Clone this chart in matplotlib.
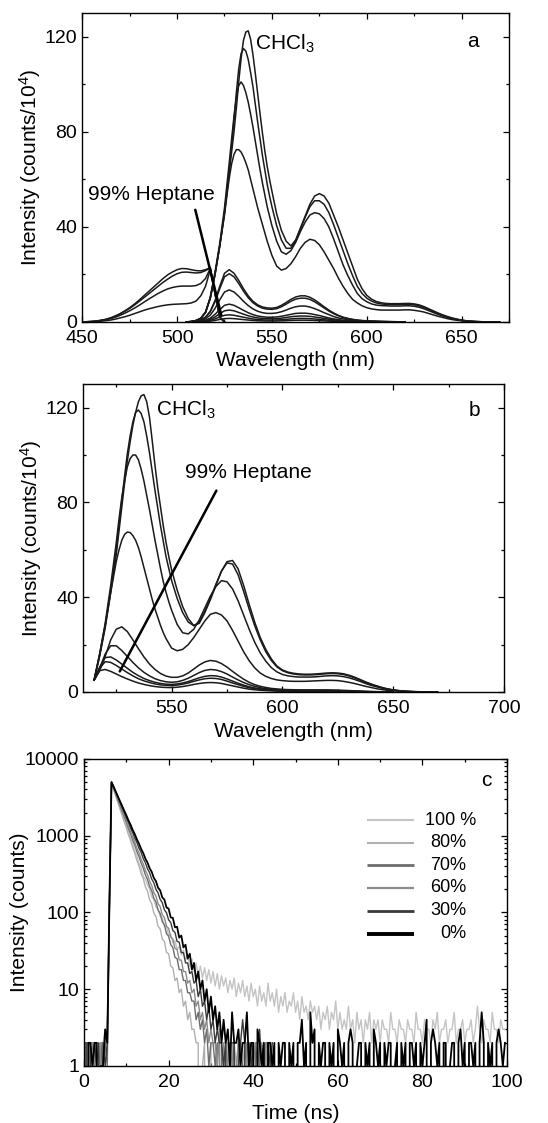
import numpy as np
import matplotlib
matplotlib.use('Agg')
import matplotlib.pyplot as plt
from matplotlib.ticker import MultipleLocator, FuncFormatter

plt.rcParams['font.family'] = ['Liberation Sans', 'DejaVu Sans']
plt.rcParams['mathtext.default'] = 'regular'

FS = 15       # labels and annotations
FS_TICK = 14  # tick labels
FS_LEG = 13   # legend of panel c
LINE = '#1a1a1a'

# ---------------- panel a: spectra, 450-675 nm ----------------
wl_a_left = np.arange(450, 525.1, 2.5)    # 31 points
# finer sampling across the main peak
wl_a_big = np.concatenate([np.arange(505, 525, 2.5),
                           np.arange(525, 550, 1.25),
                           np.arange(550, 670.1, 2.5)])   # 77 points
wl_a_small = np.arange(505, 620.1, 2.5)   # 47 points

a_hump1 = [0, 0.1, 0.2, 0.4, 0.7, 1.1, 1.7, 2.5, 3.5, 4.7,
           6, 7.5, 9.2, 11, 12.8, 14.6, 16.4, 18.2, 19.8, 21,
           22, 22.5, 22.4, 22, 21.6, 21.5, 22, 22.8, 12, 2,
           0]
a_hump2 = [0, 0.1, 0.2, 0.4, 0.7, 1.1, 1.7, 2.5, 3.4, 4.5,
           5.7, 7.1, 8.6, 10.2, 11.8, 13.4, 15, 16.6, 18, 19.3,
           20.3, 20.9, 21, 20.8, 20.6, 20.8, 21.6, 22.8, 12, 2,
           0]
a_hump3 = [0, 0.1, 0.2, 0.3, 0.6, 0.9, 1.4, 2, 2.8, 3.7,
           4.7, 5.8, 7, 8.3, 9.6, 10.8, 12, 13, 13.9, 14.5,
           14.9, 15.1, 15.1, 15.1, 15.3, 16.2, 18.3, 22.5, 12, 2,
           0]
a_hump4 = [0, 0.05, 0.1, 0.2, 0.35, 0.55, 0.8, 1.2, 1.7, 2.2,
           2.8, 3.5, 4.2, 4.9, 5.5, 6, 6.5, 6.9, 7.2, 7.4,
           7.5, 7.6, 7.7, 8, 8.8, 11, 15, 22, 12, 2,
           0]

a_big1 = [0, 0.2, 0.6, 1.5, 4, 10, 20, 32,
          46, 54, 63, 71.5, 80, 90, 101, 111, 118.5, 122,
          122.5, 119, 112.5, 104.5, 96, 87.5, 79.5, 72, 65.5, 60,
          55, 45.5,
          38.5, 34, 32, 34.5, 39.5, 44.5, 49.5, 53, 54, 53,
          50, 45, 40, 34.5, 29, 23.5, 18, 14, 11.2, 9.6,
          8.6, 8.1, 7.8, 7.7, 7.7, 7.7, 7.8, 7.8, 7.6, 7.2,
          6.5, 5.6, 4.7, 3.8, 3, 2.3, 1.7, 1.2, 0.8, 0.5,
          0.3, 0.2, 0.1, 0.05, 0.02, 0.01, 0]
a_big2 = [0, 0.2, 0.6, 1.5, 4, 10, 20, 32,
          46, 55, 64, 74, 85, 96.5, 106.5, 113, 115, 114,
          110.5, 105, 99, 91.5, 84, 77, 70, 64, 58, 53,
          48.5, 40.5,
          34.5, 31, 31, 34, 39, 44, 48.5, 51, 51, 49.5,
          46, 41, 35.5, 30, 24.5, 19.5, 15, 12, 10, 8.8,
          8, 7.6, 7.4, 7.3, 7.3, 7.3, 7.4, 7.4, 7.2, 6.8,
          6.1, 5.3, 4.4, 3.5, 2.7, 2.1, 1.5, 1.1, 0.7, 0.45,
          0.3, 0.15, 0.1, 0.05, 0.02, 0.01, 0]
a_big3 = [0, 0.2, 0.6, 1.6, 4.2, 10.5, 21, 33,
          48, 57.5, 67, 77, 86.5, 94.5, 99.5, 101, 99.5, 96.5,
          92.5, 87.5, 82, 76, 70, 64, 58.5, 53.5, 48.5, 44.5,
          40.5, 34,
          29.5, 28.5, 30, 33.5, 38, 42, 45, 46, 45.5, 43.5,
          40, 35, 29.5, 24, 19.5, 15.5, 12, 9.8, 8.5, 7.6,
          7.1, 6.9, 6.8, 6.7, 6.7, 6.7, 6.8, 6.8, 6.6, 6.2,
          5.6, 4.8, 4, 3.2, 2.5, 1.9, 1.4, 1, 0.65, 0.4,
          0.25, 0.15, 0.1, 0.05, 0.02, 0.01, 0]
a_big4 = [0, 0.2, 0.6, 1.5, 4, 10, 20, 32,
          45, 53, 60.5, 66.5, 70.5, 72.5, 72.5, 71.5, 69.5, 67,
          64, 60, 56, 52, 48, 44.5, 41, 37.5, 34, 31,
          28, 23.5,
          21.8, 22.5, 24.5, 27.5, 31, 33.5, 34.8, 34.3, 32.5, 29.5,
          26, 22.5, 18.5, 15, 12, 9.5, 8, 6.8, 6, 5.5,
          5.2, 5, 5, 5, 5, 5, 5.1, 5.1, 4.9, 4.6,
          4.2, 3.6, 3, 2.4, 1.9, 1.4, 1, 0.7, 0.5, 0.3,
          0.2, 0.12, 0.07, 0.04, 0.02, 0.01, 0]

a_small1 = [0, 0.1, 0.3, 0.8, 2, 4.5, 9, 15, 20.5, 22,
            20.5, 17.5, 14, 11, 8.7, 7.2, 6.3, 5.9, 5.8, 6.1,
            7, 8.2, 9.5, 10.5, 11, 11, 10.4, 9.3, 7.9, 6.4,
            5, 3.8, 2.8, 2, 1.5, 1.1, 0.8, 0.6, 0.5, 0.4,
            0.3, 0.25, 0.2, 0.15, 0.1, 0.05, 0]
a_small2 = [0, 0.1, 0.3, 0.8, 2, 4.3, 8.5, 14, 19, 20.3,
            19, 16.2, 13, 10.2, 8.1, 6.7, 5.8, 5.4, 5.3, 5.6,
            6.4, 7.5, 8.7, 9.6, 10, 10, 9.5, 8.5, 7.2, 5.9,
            4.6, 3.5, 2.6, 1.9, 1.4, 1, 0.75, 0.55, 0.45, 0.35,
            0.3, 0.2, 0.15, 0.1, 0.1, 0.05, 0]
a_small3 = [0, 0.1, 0.2, 0.5, 1.3, 2.9, 5.7, 9.3, 12.6, 13.5,
            12.6, 10.8, 8.7, 6.9, 5.5, 4.5, 3.9, 3.6, 3.6, 3.8,
            4.3, 5, 5.8, 6.4, 6.7, 6.7, 6.3, 5.6, 4.8, 3.9,
            3.1, 2.3, 1.7, 1.3, 0.95, 0.7, 0.5, 0.4, 0.3, 0.25,
            0.2, 0.15, 0.1, 0.1, 0.05, 0.05, 0]
a_small4 = [0, 0.05, 0.1, 0.3, 0.7, 1.6, 3.2, 5.2, 7, 7.5,
            7, 6, 4.9, 3.9, 3.1, 2.5, 2.2, 2, 2, 2.1,
            2.4, 2.8, 3.2, 3.6, 3.7, 3.7, 3.5, 3.1, 2.7, 2.2,
            1.7, 1.3, 1, 0.7, 0.55, 0.4, 0.3, 0.2, 0.15, 0.12,
            0.1, 0.08, 0.06, 0.04, 0.02, 0.01, 0]
a_small5 = [0, 0.03, 0.07, 0.2, 0.5, 1.1, 2.1, 3.5, 4.7, 5,
            4.7, 4, 3.3, 2.6, 2.1, 1.7, 1.5, 1.35, 1.35, 1.4,
            1.6, 1.9, 2.2, 2.4, 2.5, 2.5, 2.35, 2.1, 1.8, 1.5,
            1.15, 0.9, 0.65, 0.5, 0.35, 0.25, 0.2, 0.15, 0.1, 0.08,
            0.05, 0.04, 0.03, 0.02, 0.01, 0, 0]
a_small6 = [0, 0.02, 0.04, 0.12, 0.3, 0.65, 1.3, 2.1, 2.8, 3,
            2.8, 2.4, 2, 1.6, 1.25, 1, 0.9, 0.8, 0.8, 0.85,
            0.95, 1.1, 1.3, 1.45, 1.5, 1.5, 1.4, 1.25, 1.1, 0.9,
            0.7, 0.55, 0.4, 0.3, 0.2, 0.15, 0.12, 0.08, 0.06, 0.05,
            0.03, 0.02, 0.01, 0, 0, 0, 0]
a_small7 = [0, 0.01, 0.02, 0.06, 0.15, 0.33, 0.65, 1.05, 1.4, 1.5,
            1.4, 1.2, 1, 0.8, 0.63, 0.5, 0.45, 0.4, 0.4, 0.43,
            0.48, 0.55, 0.65, 0.72, 0.75, 0.75, 0.7, 0.63, 0.55, 0.45,
            0.35, 0.28, 0.2, 0.15, 0.1, 0.08, 0.06, 0.04, 0.03, 0.02,
            0.02, 0.01, 0, 0, 0, 0, 0]

# ---------------- panel b: spectra, 510-700 nm ----------------
wl_b_big = np.concatenate([np.arange(515, 525, 2.5),
                           np.arange(525, 550, 1.25),
                           np.arange(550, 670.1, 2.5)])   # 73 points
wl_b_small = np.arange(515, 650.1, 2.5)   # 55 points

b_big1 = [5, 15, 27, 42,
          58, 68, 78, 88, 97.5, 105.5, 112.5, 118, 122.5, 125,
          125.5, 122.5, 116, 106, 95.5, 86, 78, 70, 63, 57,
          51.5, 43, 36, 31, 28, 29,
          33.5, 39, 45, 51, 55, 55.5, 52, 45, 37, 29.5,
          23, 18, 14, 11, 9.3, 8.4, 7.9, 7.6, 7.5, 7.5,
          7.6, 7.8, 8, 8.1, 8, 7.7, 7.1, 6.3, 5.3, 4.3,
          3.4, 2.6, 1.9, 1.3, 0.9, 0.6, 0.4, 0.25, 0.15, 0.1,
          0.05, 0.02, 0]
b_big2 = [5, 15.5, 28, 43,
          60, 70.5, 81, 91, 100.5, 108, 114, 118, 119, 117.5,
          114, 108, 101, 93, 85, 77.5, 70, 63.5, 57, 52,
          47, 39.5, 33.5, 29.5, 28, 29.5,
          34, 39.5, 45.5, 51, 54.5, 54, 49.5, 42.5, 35, 28,
          22, 17, 13.3, 10.6, 9, 8.1, 7.6, 7.3, 7.2, 7.2,
          7.3, 7.5, 7.7, 7.8, 7.7, 7.4, 6.8, 6, 5.1, 4.1,
          3.2, 2.5, 1.8, 1.25, 0.85, 0.55, 0.35, 0.2, 0.12, 0.08,
          0.04, 0.02, 0]
b_big3 = [5, 16, 29, 45,
          63, 73, 82, 89, 95, 98.5, 100, 100, 98, 94,
          89, 83, 77, 70.5, 64, 58, 52, 46.5, 42, 38,
          34.5, 28.5, 25, 24.5, 26.5, 30.5,
          35.5, 40.5, 44.5, 47, 46.5, 43.5, 38.5, 32.5, 26.5, 21,
          16.5, 13, 10.3, 8.5, 7.4, 6.8, 6.5, 6.3, 6.3, 6.3,
          6.4, 6.6, 6.8, 6.9, 6.8, 6.5, 6, 5.3, 4.5, 3.6,
          2.8, 2.2, 1.6, 1.1, 0.75, 0.5, 0.3, 0.18, 0.1, 0.06,
          0.03, 0.01, 0]
b_big4 = [5, 16, 28, 42,
          55, 60, 64, 66.5, 67.5, 67.3, 66, 64, 61, 57,
          52.5, 48, 43.5, 39, 35, 31.5, 28, 25, 22.5, 20.5,
          18.5, 17.4, 18, 20, 23, 26.5,
          30, 32.8, 33.5, 32.5, 30, 26, 21.5, 17, 13.2, 10.2,
          8, 6.6, 5.7, 5.1, 4.8, 4.6, 4.5, 4.5, 4.5, 4.6,
          4.7, 4.8, 4.9, 4.9, 4.8, 4.5, 4.1, 3.6, 3, 2.4,
          1.9, 1.4, 1, 0.7, 0.5, 0.3, 0.2, 0.12, 0.07, 0.04,
          0.02, 0.01, 0]

b_small1 = [5, 9, 15, 22, 26.5, 27.5, 25.5, 22, 18.3, 14.8,
            11.8, 9.5, 7.8, 6.7, 6.2, 6.2, 6.8, 8, 9.7, 11.4,
            12.7, 13.3, 13, 12, 10.5, 8.7, 7, 5.4, 4.1, 3.1,
            2.4, 1.9, 1.5, 1.3, 1.1, 1, 0.95, 0.9, 0.9, 0.9,
            0.9, 0.9, 0.9, 0.85, 0.8, 0.7, 0.6, 0.5, 0.4, 0.3,
            0.2, 0.15, 0.1, 0.05, 0]
b_small2 = [5, 10, 16, 19.5, 19.5, 17.5, 15, 12.5, 10.2, 8.3,
            6.8, 5.6, 4.8, 4.3, 4.1, 4.3, 4.9, 5.8, 7, 8.2,
            9.1, 9.5, 9.3, 8.6, 7.6, 6.3, 5.1, 4, 3.1, 2.4,
            1.8, 1.4, 1.1, 0.9, 0.8, 0.75, 0.7, 0.65, 0.65, 0.65,
            0.65, 0.65, 0.6, 0.6, 0.55, 0.5, 0.45, 0.35, 0.3, 0.2,
            0.15, 0.1, 0.07, 0.03, 0]
b_small3 = [5, 10.5, 14.5, 14.8, 13.5, 11.8, 10, 8.3, 6.9, 5.7,
            4.8, 4.1, 3.6, 3.3, 3.2, 3.4, 3.8, 4.4, 5.2, 6,
            6.6, 6.9, 6.8, 6.3, 5.5, 4.6, 3.7, 2.9, 2.2, 1.7,
            1.3, 1, 0.8, 0.65, 0.55, 0.5, 0.45, 0.45, 0.45, 0.45,
            0.45, 0.45, 0.4, 0.4, 0.35, 0.3, 0.25, 0.2, 0.15, 0.1,
            0.08, 0.05, 0.03, 0.01, 0]
b_small4 = [5, 10, 12.8, 12.5, 11.2, 9.7, 8.2, 6.8, 5.6, 4.7,
            4, 3.4, 3, 2.8, 2.7, 2.9, 3.3, 3.8, 4.5, 5.1,
            5.6, 5.8, 5.7, 5.3, 4.6, 3.8, 3.1, 2.4, 1.8, 1.4,
            1.1, 0.85, 0.7, 0.55, 0.45, 0.4, 0.38, 0.36, 0.35, 0.35,
            0.35, 0.35, 0.33, 0.3, 0.28, 0.25, 0.2, 0.16, 0.12, 0.08,
            0.06, 0.04, 0.02, 0.01, 0]
b_small5 = [5, 9, 9.5, 8.7, 7.6, 6.5, 5.5, 4.6, 3.8, 3.2,
            2.7, 2.3, 2.05, 1.9, 1.85, 2, 2.3, 2.7, 3.2, 3.6,
            3.9, 4, 3.9, 3.6, 3.1, 2.6, 2.1, 1.6, 1.2, 0.95,
            0.75, 0.6, 0.5, 0.4, 0.35, 0.3, 0.28, 0.26, 0.25, 0.25,
            0.25, 0.25, 0.23, 0.22, 0.2, 0.18, 0.15, 0.12, 0.09, 0.06,
            0.04, 0.03, 0.02, 0.01, 0]

# ---------------- panel c: decay traces, 0.5 ns channels ----------------
t_full = np.arange(200) * 0.5    # 0 .. 99.5 ns
t_short = t_full[:90]            # 0 .. 44.5 ns

decay_labels = ['100 %', '80%', '70%', '60%', '30%', '0%']
decay_colors = ['#c4c4c4', '#b0b0b0', '#6e6e6e', '#8c8c8c', '#3a3a3a', '#000000']

c_100 = [2, 2, 1, 2, 0, 2, 2, 1, 1, 2,
         3, 2, 110, 4900, 4070, 3390, 2800, 2350, 1930, 1625,
         1330, 1125, 915, 785, 628, 545, 430, 380, 295, 272,
         228, 201, 160, 148, 118, 110, 88, 85, 66, 66,
         50, 52, 40, 43, 33, 36, 28, 32, 24, 28,
         20, 25, 17, 22, 15, 20, 14, 19, 13, 18,
         12, 17, 11, 16, 10, 15, 11, 14, 9, 13,
         10, 14, 8, 12, 9, 13, 8, 11, 7, 12,
         8, 10, 6, 11, 7, 9, 6, 12, 7, 9,
         6, 10, 5, 8, 6, 9, 5, 7, 6, 9,
         5, 7, 4, 8, 5, 6, 4, 7, 5, 6,
         4, 6, 3, 5, 4, 6, 3, 5, 4, 7,
         3, 5, 3, 4, 3, 6, 3, 4, 2, 5,
         3, 4, 2, 4, 3, 5, 2, 4, 3, 4,
         2, 4, 3, 3, 2, 5, 3, 3, 2, 4,
         3, 3, 2, 4, 3, 3, 2, 5, 3, 3,
         2, 4, 3, 3, 2, 4, 3, 5, 2, 3,
         3, 4, 2, 3, 3, 5, 2, 3, 3, 4,
         2, 3, 3, 4, 2, 3, 6, 3, 2, 4,
         3, 3, 2, 5, 3, 3, 2, 4, 3, 3]
c_80 = [1, 2, 2, 0, 2, 1, 2, 2, 0, 2,
        2, 2, 100, 4850, 4000, 3290, 2720, 2230, 1850, 1510,
        1270, 1030, 868, 700, 592, 474, 405, 320, 278, 216,
        190, 146, 130, 98, 89, 66, 61, 45, 42, 30,
        29, 20, 19, 13, 14, 9, 10, 6, 7, 4,
        5, 3, 3, 2, 2, 0, 1, 2, 0, 1,
        2, 0, 1, 2, 0, 2, 1, 0, 2, 1,
        0, 2, 1, 2, 0, 1, 2, 0, 2, 1,
        2, 0, 1, 2, 1, 0, 2, 1, 0, 2]
c_70 = [2, 1, 0, 2, 2, 1, 2, 0, 2, 1,
        2, 1, 115, 4950, 4170, 3510, 2950, 2490, 2090, 1760,
        1490, 1240, 1060, 878, 752, 620, 535, 438, 380, 309,
        270, 218, 192, 153, 137, 108, 97, 76, 69, 53,
        49, 38, 35, 26, 25, 18, 18, 13, 13, 9,
        9, 7, 7, 4, 5, 3, 4, 2, 3, 1,
        2, 2, 1, 2, 0, 2, 1, 2, 0, 2,
        1, 2, 0, 2, 2, 1, 0, 2, 1, 2,
        0, 2, 1, 2, 0, 1, 2, 2, 0, 1]
c_60 = [0, 2, 2, 1, 2, 2, 0, 1, 2, 2,
        2, 3, 120, 4950, 4200, 3570, 3030, 2570, 2180, 1850,
        1580, 1320, 1140, 955, 825, 684, 597, 491, 430, 352,
        312, 254, 225, 181, 164, 130, 119, 93, 86, 66,
        62, 48, 45, 34, 33, 24, 24, 17, 17, 12,
        13, 9, 10, 6, 7, 4, 5, 3, 4, 2,
        3, 2, 2, 1, 3, 0, 2, 2, 1, 2,
        2, 0, 1, 2, 2, 0, 2, 1, 2, 0,
        1, 2, 2, 0, 2, 1, 2, 0, 2, 1]
c_30 = [2, 2, 0, 2, 1, 2, 1, 2, 0, 2,
        1, 2, 125, 5000, 4290, 3700, 3160, 2735, 2330, 2020,
        1715, 1495, 1262, 1105, 928, 818, 684, 605, 502, 446,
        370, 330, 272, 244, 200, 180, 148, 134, 108, 99,
        80, 74, 58, 55, 42, 41, 30, 30, 22, 22,
        16, 17, 12, 13, 8, 10, 6, 7, 4, 6,
        3, 4, 2, 3, 2, 2, 1, 2, 0, 2,
        2, 2, 0, 1, 2, 4, 2, 0, 2, 1,
        2, 0, 2, 3, 1, 2, 0, 2, 1, 2]
c_0 = [2, 0, 2, 2, 1, 2, 2, 0, 1, 1,
       3, 2, 130, 5000, 4340, 3750, 3265, 2815, 2455, 2115,
       1850, 1585, 1392, 1190, 1048, 895, 788, 672, 594, 503,
       448, 377, 338, 282, 256, 210, 194, 157, 147, 116,
       112, 86, 85, 64, 65, 47, 50, 35, 38, 25,
       29, 18, 22, 13, 17, 10, 13, 7, 10, 5,
       8, 4, 6, 3, 5, 2, 4, 2, 3, 1,
       5, 2, 2, 3, 1, 2, 2, 5, 1, 2,
       2, 0, 3, 2, 1, 2, 0, 2, 2, 1,
       2, 0, 2, 1, 2, 2, 0, 2, 1, 2,
       0, 2, 2, 4, 1, 2, 0, 5, 2, 3,
       0, 2, 1, 2, 2, 0, 2, 1, 2, 0,
       3, 2, 1, 2, 0, 2, 3, 2, 0, 1,
       2, 2, 0, 2, 1, 2, 0, 3, 2, 1,
       2, 0, 2, 1, 2, 2, 0, 1, 2, 0,
       2, 1, 2, 0, 2, 2, 1, 2, 0, 2,
       1, 2, 4, 0, 2, 3, 2, 1, 2, 0,
       2, 2, 0, 1, 2, 2, 0, 2, 3, 1,
       2, 0, 2, 2, 1, 2, 0, 2, 5, 2,
       0, 2, 1, 2, 0, 2, 3, 2, 1, 2]


def style_axis(ax):
    ax.tick_params(which='both', direction='in', top=True, right=True,
                   labelsize=FS_TICK, width=0.9)
    ax.tick_params(which='major', length=4.5)
    ax.tick_params(axis='x', which='major', pad=6)
    ax.tick_params(axis='y', which='major', pad=3.5)
    ax.tick_params(which='minor', length=2.5)
    for sp in ax.spines.values():
        sp.set_linewidth(1.0)


fig = plt.figure(figsize=(5.48, 11.23), dpi=100)

# ----- panel a -----
ax_a = fig.add_axes([0.150, 0.7133, 0.779, 0.2751])
for y in [a_hump1, a_hump2, a_hump3, a_hump4]:
    ax_a.plot(wl_a_left, y, color=LINE, lw=1.1)
for y in [a_big1, a_big2, a_big3, a_big4]:
    ax_a.plot(wl_a_big, y, color=LINE, lw=1.1)
for y in [a_small1, a_small2, a_small3, a_small4, a_small5, a_small6, a_small7]:
    ax_a.plot(wl_a_small, y, color=LINE, lw=1.1)
ax_a.set_xlim(450, 675)
ax_a.set_ylim(0, 130)
ax_a.xaxis.set_major_locator(MultipleLocator(50))
ax_a.xaxis.set_minor_locator(MultipleLocator(25))
ax_a.yaxis.set_major_locator(MultipleLocator(40))
ax_a.yaxis.set_minor_locator(MultipleLocator(20))
style_axis(ax_a)
ax_a.set_xlabel('Wavelength (nm)', fontsize=FS)
ax_a.set_ylabel('Intensity (counts/10$^4$)', fontsize=FS)
ax_a.xaxis.set_label_coords(0.5, -0.095)
ax_a.yaxis.set_label_coords(-0.092, 0.5)
ax_a.text(541, 117, 'CHCl$_3$', fontsize=FS, ha='left', va='center')
ax_a.text(453, 53.5, '99% Heptane', fontsize=FS, ha='left', va='center')
ax_a.annotate('', xy=(523.3, 2.9), xytext=(509.6, 47.2),
              arrowprops=dict(arrowstyle='-', lw=1.8, color='k',
                              shrinkA=0, shrinkB=0))
ax_a.text(0.916, 0.908, 'a', transform=ax_a.transAxes, fontsize=FS,
          ha='center', va='center')

# ----- panel b -----
ax_b = fig.add_axes([0.1515, 0.3838, 0.768, 0.2743])
for y in [b_big1, b_big2, b_big3, b_big4]:
    ax_b.plot(wl_b_big, y, color=LINE, lw=1.1)
for y in [b_small1, b_small2, b_small3, b_small4, b_small5]:
    ax_b.plot(wl_b_small, y, color=LINE, lw=1.1)
ax_b.set_xlim(510, 700)
ax_b.set_ylim(0, 130)
ax_b.xaxis.set_major_locator(MultipleLocator(50))
ax_b.xaxis.set_minor_locator(MultipleLocator(25))
ax_b.yaxis.set_major_locator(MultipleLocator(40))
ax_b.yaxis.set_minor_locator(MultipleLocator(20))
style_axis(ax_b)
ax_b.set_xlabel('Wavelength (nm)', fontsize=FS)
ax_b.set_ylabel('Intensity (counts/10$^4$)', fontsize=FS)
ax_b.xaxis.set_label_coords(0.5, -0.096)
ax_b.yaxis.set_label_coords(-0.092, 0.5)
ax_b.text(543, 119, 'CHCl$_3$', fontsize=FS, ha='left', va='center')
ax_b.text(556, 92.5, '99% Heptane', fontsize=FS, ha='left', va='center')
ax_b.annotate('', xy=(526.6, 8.7), xytext=(570.2, 85),
              arrowprops=dict(arrowstyle='-', lw=1.8, color='k',
                              shrinkA=0, shrinkB=0))
ax_b.text(0.93, 0.915, 'b', transform=ax_b.transAxes, fontsize=FS,
          ha='center', va='center')

# ----- panel c -----
ax_c = fig.add_axes([0.1533, 0.0508, 0.772, 0.2734])
traces = [(t_full, c_100), (t_short, c_80), (t_short, c_70),
          (t_short, c_60), (t_short, c_30), (t_full, c_0)]
widths = [1.0, 1.0, 1.0, 1.0, 1.0, 1.3]
for (tt, cc), col, lw in zip(traces, decay_colors, widths):
    ax_c.plot(tt, cc, color=col, lw=lw)
ax_c.set_yscale('log')
ax_c.set_xlim(0, 100)
ax_c.set_ylim(1, 10000)
ax_c.xaxis.set_major_locator(MultipleLocator(20))
ax_c.xaxis.set_minor_locator(MultipleLocator(10))
ax_c.yaxis.set_major_formatter(FuncFormatter(lambda v, p: f'{v:g}'))
style_axis(ax_c)
ax_c.set_xlabel('Time (ns)', fontsize=FS)
ax_c.set_ylabel('Intensity (counts)', fontsize=FS)
ax_c.xaxis.set_label_coords(0.5, -0.125)
ax_c.yaxis.set_label_coords(-0.131, 0.5)
ax_c.text(0.951, 0.93, 'c', transform=ax_c.transAxes, fontsize=FS,
          ha='center', va='center')

# legend drawn by hand so the labels can sit right-aligned
leg_y = [0.801, 0.727, 0.653, 0.580, 0.505, 0.431]
leg_w = [1.5, 1.5, 2.0, 1.6, 2.0, 2.8]
leg_x = [0.928, 0.903, 0.903, 0.903, 0.903, 0.903]
for lab, col, yy, lw, xx in zip(decay_labels, decay_colors, leg_y, leg_w, leg_x):
    ax_c.plot([0.67, 0.78], [yy, yy], transform=ax_c.transAxes,
              color=col, lw=lw, solid_capstyle='butt')
    ax_c.text(xx, yy, lab, transform=ax_c.transAxes, fontsize=FS_LEG,
              ha='right', va='center')

fig.savefig('out.png', dpi=100)
